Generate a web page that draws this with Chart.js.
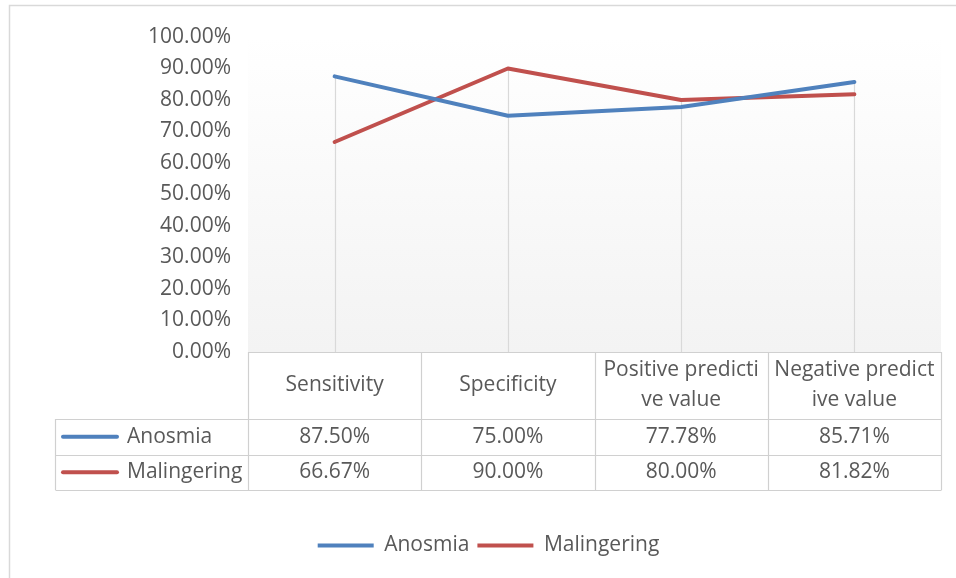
<!DOCTYPE html>
<html>
<head>
<meta charset="utf-8">
<script src="https://cdn.jsdelivr.net/npm/chart.js@4.4.1/dist/chart.umd.min.js"></script>
<style>
  html, body { margin: 0; padding: 0; background: #ffffff; }
  #wrap { width: 956px; height: 578px; }
</style>
</head>
<body>
<div id="wrap"><canvas id="c" width="956" height="578"></canvas></div>
<script>
// ---- data ----
const categories = ['Sensitivity', 'Specificity', ['Positive predicti', 've value'], ['Negative predict', 'ive value']];
const seriesNames = ['Anosmia', 'Malingering'];
const anosmia = [87.50, 75.00, 77.78, 85.71];
const malingering = [66.67, 90.00, 80.00, 81.82];
const yTicks = [0, 10, 20, 30, 40, 50, 60, 70, 80, 90, 100];

const FONT = 'Open Sans';
const TXT = '#595959';
const BLUE = '#4F81BD';
const RED = '#C0504D';
const GRID = '#d9d9d9';

const allSeries = [anosmia, malingering];
const colors = [BLUE, RED];

const decorPlugin = {
  id: 'decor',
  beforeDraw(chart) {
    const {ctx, chartArea: a} = chart;
    ctx.save();
    ctx.fillStyle = '#ffffff';
    ctx.fillRect(0, 0, chart.width, chart.height);
    // plot area subtle gradient
    const g = ctx.createLinearGradient(0, a.top, 0, a.bottom);
    g.addColorStop(0, '#ffffff');
    g.addColorStop(1, '#f3f3f3');
    ctx.fillStyle = g;
    ctx.fillRect(a.left, a.top, a.right - a.left, a.bottom - a.top);
    // outer chart border
    ctx.strokeStyle = '#d9d9d9';
    ctx.lineWidth = 1.5;
    ctx.strokeRect(9.5, 5.5, chart.width + 20, chart.height + 20);
    ctx.restore();
  },
  beforeDatasetsDraw(chart) {
    const {ctx, chartArea: a, scales: {x, y}} = chart;
    ctx.save();
    ctx.strokeStyle = GRID;
    ctx.lineWidth = 1.2;
    categories.forEach((c, i) => {
      const top = Math.max(...allSeries.map(s => s[i]));
      const px = Math.round(x.getPixelForValue(i)) + 0.5;
      ctx.beginPath();
      ctx.moveTo(px, y.getPixelForValue(top));
      ctx.lineTo(px, a.bottom);
      ctx.stroke();
    });
    ctx.restore();
  },
  afterDraw(chart) {
    const {ctx, chartArea: a, scales: {x}} = chart;
    const n = categories.length;
    const colW = (a.right - a.left) / n;
    const top = a.bottom;
    const headerH = 67;
    const rowH = 35.5;
    const leftX = 55.5;
    const bottom = top + headerH + rowH * allSeries.length;
    const edges = [];
    for (let i = 0; i <= n; i++) edges.push(Math.round(a.left + i * colW) + 0.5);
    ctx.save();
    ctx.strokeStyle = '#d0d0d0';
    ctx.lineWidth = 1.2;
    const line = (x1, y1, x2, y2) => { ctx.beginPath(); ctx.moveTo(x1, y1); ctx.lineTo(x2, y2); ctx.stroke(); };
    line(edges[0], top + 0.5, edges[n], top + 0.5);
    for (let r = 0; r <= allSeries.length; r++) {
      const yy = Math.round(top + headerH + r * rowH) + 0.5;
      line(leftX, yy, edges[n], yy);
    }
    edges.forEach(e => line(e, top, e, bottom));
    line(leftX, top + headerH, leftX, bottom);

    ctx.fillStyle = TXT;
    ctx.font = `21px "${FONT}"`;
    ctx.textAlign = 'center';
    ctx.textBaseline = 'middle';
    // header
    categories.forEach((c, i) => {
      const cx = x.getPixelForValue(i);
      const lines = Array.isArray(c) ? c : [c];
      const lh = 30;
      const cy = top + headerH / 2;
      lines.forEach((t, k) => {
        ctx.fillText(t, cx, cy + (k - (lines.length - 1) / 2) * lh);
      });
    });
    // rows
    allSeries.forEach((s, r) => {
      const cy = top + headerH + r * rowH + rowH / 2;
      ctx.textAlign = 'center';
      s.forEach((v, i) => {
        ctx.fillText(v.toFixed(2) + '%', x.getPixelForValue(i), cy);
      });
      // legend key
      ctx.strokeStyle = colors[r];
      ctx.lineWidth = 4;
      ctx.lineCap = 'round';
      line(63, cy, 117, cy);
      ctx.textAlign = 'left';
      ctx.fillText(seriesNames[r], 127, cy);
    });
    ctx.restore();
  }
};

new Chart(document.getElementById('c'), {
  type: 'line',
  data: {
    labels: categories,
    datasets: [
      { label: seriesNames[0], data: anosmia, borderColor: BLUE, backgroundColor: BLUE, borderWidth: 4, pointRadius: 0, tension: 0, borderCapStyle: 'round', borderJoinStyle: 'round' },
      { label: seriesNames[1], data: malingering, borderColor: RED, backgroundColor: RED, borderWidth: 4, pointRadius: 0, tension: 0, borderCapStyle: 'round', borderJoinStyle: 'round' }
    ]
  },
  options: {
    responsive: false,
    animation: false,
    devicePixelRatio: 1,
    layout: { padding: { top: 37, right: 15, bottom: 12, left: 36 } },
    plugins: {
      tooltip: { enabled: false },
      legend: {
        position: 'bottom',
        labels: {
          usePointStyle: true,
          pointStyle: 'line',
          pointStyleWidth: 56,
          padding: 8,
          color: TXT,
          font: { family: FONT, size: 21 }
        }
      }
    },
    scales: {
      x: {
        type: 'category',
        offset: true,
        grid: { display: false },
        border: { display: false },
        ticks: { display: false },
        afterFit(scale) { scale.height = 175; }
      },
      y: {
        min: 0,
        max: 100,
        afterBuildTicks(scale) { scale.ticks = yTicks.map(v => ({ value: v })); },
        grid: { display: false, drawTicks: false },
        border: { display: false },
        ticks: {
          padding: 17,
          color: TXT,
          font: { family: FONT, size: 21 },
          callback: v => v.toFixed(2) + '%'
        },
        afterFit(scale) { scale.width = 212; }
      }
    }
  },
  plugins: [decorPlugin]
});
</script>
</body>
</html>
